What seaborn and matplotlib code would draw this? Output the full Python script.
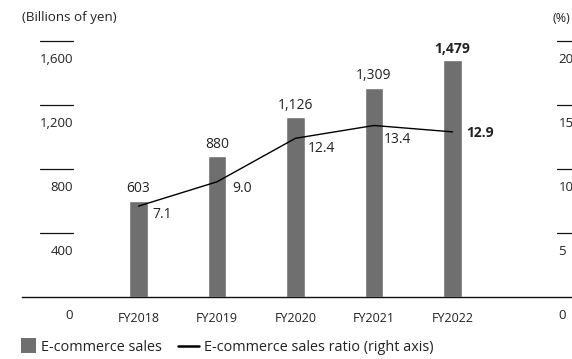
import numpy as np
import pandas as pd
import matplotlib
matplotlib.use("Agg")
import matplotlib.pyplot as plt
import matplotlib.transforms as mtransforms
from matplotlib.patches import Patch, Rectangle
from matplotlib.lines import Line2D
from matplotlib.legend_handler import HandlerPatch, HandlerBase
import seaborn as sns

# Data
fiscal_years = ["FY2018", "FY2019", "FY2020", "FY2021", "FY2022"]
ec_sales = [603, 880, 1126, 1309, 1479]          # billions of yen
ec_ratio = [7.1, 9.0, 12.4, 13.4, 12.9]          # percent
sales_labels = ["603", "880", "1,126", "1,309", "1,479"]
ratio_labels = ["7.1", "9.0", "12.4", "13.4", "12.9"]
left_ticks = [0, 400, 800, 1200, 1600]
left_tick_labels = ["0", "400", "800", "1,200", "1,600"]
right_ticks = [0, 5, 10, 15, 20]
right_tick_labels = ["0", "5", "10", "15", "20"]

# Styling
bar_color = "#6f6f6f"
text_color = "#222222"
fs = 9.5
# offsets (points) of each ratio label from its point
ratio_offsets = [(10, -6), (11, -4.5), (9, -7), (7, -10), (10, -1)]

sns.set_theme(style="white")
plt.rcParams["font.family"] = ["Open Sans", "DejaVu Sans"]
plt.rcParams["text.color"] = text_color

W, H = 572, 359
fig = plt.figure(figsize=(W / 100, H / 100), dpi=100)
ax_left, ax_right_px, ax_bottom, ax_top = 22, 572, 297, 41
ax = fig.add_axes([ax_left / W, (H - ax_bottom) / H,
                   (ax_right_px - ax_left) / W, (ax_bottom - ax_top) / H])

df = pd.DataFrame({"year": fiscal_years, "sales": ec_sales, "ratio": ec_ratio})
sns.barplot(data=df, x="year", y="sales", color=bar_color, width=0.242,
            saturation=1, ax=ax, zorder=2)

spacing = 78.5
x0 = -(138.5 - ax_left) / spacing
ax.set_xlim(x0, x0 + (ax_right_px - ax_left) / spacing)
ax.set_ylim(0, 1600)
ax.set_xlabel("")
ax.set_ylabel("")
ax.set_yticks([])
ax.tick_params(axis="x", length=0, pad=11, labelsize=fs - 0.5, colors=text_color)
for s in ["left", "right", "top"]:
    ax.spines[s].set_visible(False)
ax.spines["bottom"].set_color("#111111")
ax.spines["bottom"].set_linewidth(1.0)

ax2 = ax.twinx()
ax2.set_ylim(0, 20)
sns.lineplot(x=np.arange(len(fiscal_years)), y=ec_ratio, color="black",
             linewidth=1.0, ax=ax2, zorder=3)
ax2.set_yticks([])
for s in ["left", "right", "top", "bottom"]:
    ax2.spines[s].set_visible(False)
ax2.set_xlim(ax.get_xlim())

# Left axis: short rules with values underneath
axw = ax_right_px - ax_left
tl = mtransforms.blended_transform_factory(ax.transAxes, ax.transData)
for v, lab in zip(left_ticks, left_tick_labels):
    if v > 0:
        ax.plot([(40 - ax_left) / axw, (73 - ax_left) / axw], [v, v],
                color="#111111", lw=0.9, transform=tl, clip_on=False)
    ax.annotate(lab, xy=((73 - ax_left) / axw, v), xycoords=tl,
                xytext=(0, -13), textcoords="offset points",
                ha="right", va="center", fontsize=fs, annotation_clip=False)

# Right axis: same treatment, values in percent
tr = mtransforms.blended_transform_factory(ax2.transAxes, ax2.transData)
for v, lab in zip(right_ticks, right_tick_labels):
    if v > 0:
        ax2.plot([(557 - ax_left) / axw, 1.05], [v, v],
                 color="#111111", lw=0.9, transform=tr, clip_on=False)
    ax2.annotate(lab, xy=((557 - ax_left) / axw, v), xycoords=tr,
                 xytext=(1, -13), textcoords="offset points",
                 ha="left", va="center", fontsize=fs, annotation_clip=False)

# Unit captions
fig.text(22 / W, 1 - 18 / H, "(Billions of yen)", ha="left", va="center",
         fontsize=9.6)
fig.text(570 / W, 1 - 18 / H, "(%)", ha="right", va="center", fontsize=9.0)

# Value labels
last = len(fiscal_years) - 1
for i, (v, lab) in enumerate(zip(ec_sales, sales_labels)):
    ax.annotate(lab, xy=(i, v), xytext=(0, 3), textcoords="offset points",
                ha="center", va="bottom", fontsize=fs + 0.5,
                fontweight="bold" if i == last else "normal",
                annotation_clip=False)
for i, (v, lab) in enumerate(zip(ec_ratio, ratio_labels)):
    dx, dy = ratio_offsets[i]
    ax2.annotate(lab, xy=(i, v), xytext=(dx, dy), textcoords="offset points",
                 ha="left", va="center", fontsize=fs + 0.5,
                 fontweight="bold" if i == last else "normal",
                 annotation_clip=False)


# Legend: square swatch for the bars, a longer stroke for the ratio line
def square_patch(legend, orig_handle, xdescent, ydescent, width, height, fontsize):
    side = width
    return Rectangle((-xdescent, -ydescent + (height - side) / 2), side, side)


class LongLineHandler(HandlerBase):
    def __init__(self, extra=0.45, **kw):
        super().__init__(**kw)
        self.extra = extra

    def create_artists(self, legend, orig_handle, xdescent, ydescent,
                       width, height, fontsize, trans):
        y = height / 2 - ydescent
        ln = Line2D([-xdescent - self.extra * fontsize, -xdescent + width],
                    [y, y], color=orig_handle.get_color(),
                    lw=orig_handle.get_linewidth())
        ln.set_transform(trans)
        return [ln]


leg_fs = 10.4
handles = [Patch(facecolor=bar_color, edgecolor="none"),
           Line2D([0], [0], color="black", lw=1.8)]
labels = ["E-commerce sales", "E-commerce sales ratio (right axis)"]
leg = fig.legend(handles, labels, loc="center left",
                 bbox_to_anchor=(20 / W, 1 - 347 / H), ncol=2, frameon=False,
                 fontsize=leg_fs, handlelength=1.02, handleheight=1.02,
                 handletextpad=0.3, columnspacing=1.6, borderaxespad=0,
                 borderpad=0.1,
                 handler_map={Patch: HandlerPatch(patch_func=square_patch),
                              Line2D: LongLineHandler()})

fig.savefig("out.png", dpi=100)
